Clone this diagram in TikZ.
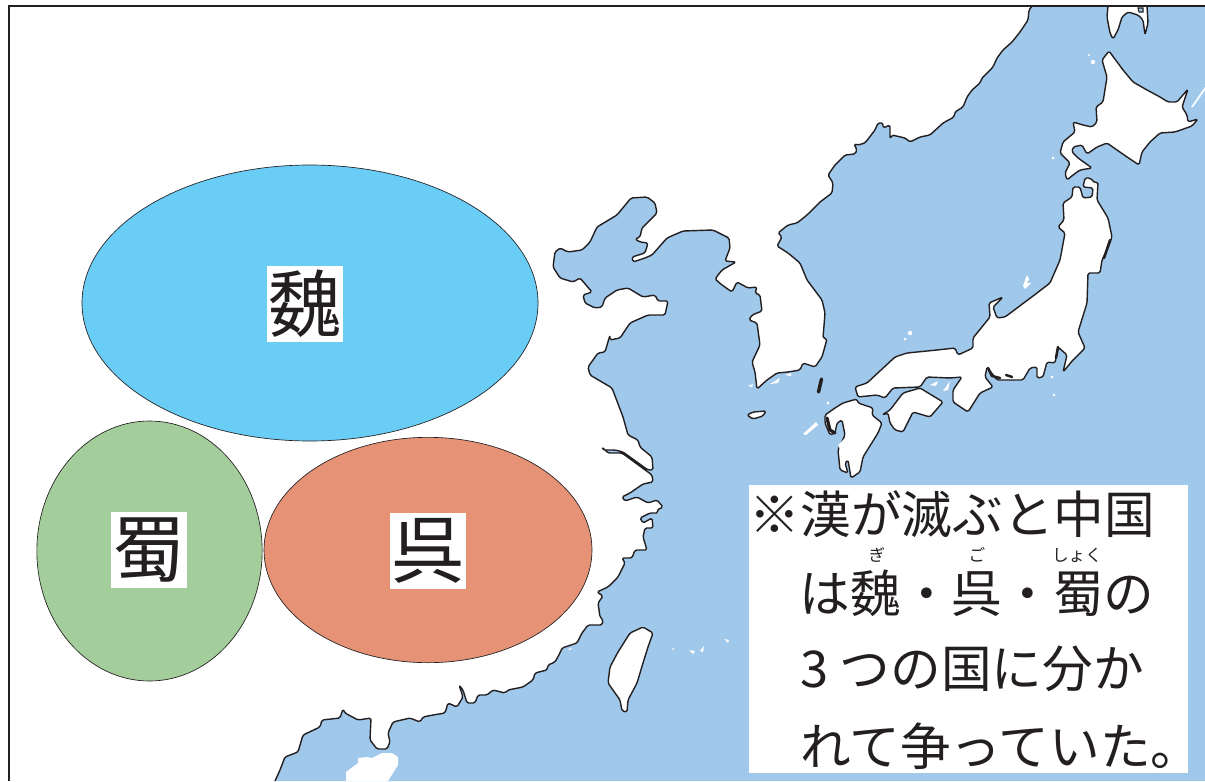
\documentclass[tikz,border=0pt]{standalone}
\usepackage{fontspec}
\setmainfont{Noto Sans CJK JP}
\usetikzlibrary{shapes.geometric}
\definecolor{seablue}{HTML}{A0C8EB}
\definecolor{inkdark}{HTML}{231F20}
\definecolor{weiblue}{HTML}{69CDF6}
\definecolor{shugreen}{HTML}{A3CE9B}
\definecolor{wured}{HTML}{E59276}
\tikzset{
  coastline/.style={draw=inkdark,line width=1.05pt,line join=round,rounded corners=1.2pt},
  landmass/.style={coastline,fill=white},
  thickland/.style={draw=inkdark,line width=1.9pt,line join=round,line cap=round},
  islet/.style={fill=white},
  kingdom/.style={ellipse,draw=inkdark,line width=.5pt,inner sep=0pt},
  namebox/.style={fill=white,text=inkdark,inner sep=0pt,minimum width=57pt,minimum height=57pt,font=\fontsize{55}{55}\selectfont},
  noteline/.style={anchor=west,inner sep=0pt,text=inkdark,font=\fontsize{38}{38}\selectfont},
  rubytext/.style={inner sep=0pt,text=inkdark,font=\fontsize{12.5}{12.5}\selectfont}
}
\def\mainlandcoast{(1032,6) -- (1029,10) -- (1028,20) -- (1020,32) -- (1012,42) -- (1003,50) -- (997,58) -- (993,67) -- (982,78) -- (980,83) -- (972,90) -- (967,97) -- (963,107) -- (955,112) -- (954,117) -- (943,123) -- (930,135) -- (920,137) -- (910,142) -- (905,138) -- (892,135) -- (890,139) -- (890,125) -- (883,128) -- (883,123) -- (878,123) -- (875,130) -- (865,143) -- (858,145) -- (854,144) -- (857,150) -- (855,154) -- (845,155) -- (835,165) -- (828,175) -- (833,183) -- (832,193) -- (820,202) -- (807,215) -- (797,223) -- (788,225) -- (778,233) -- (782,237) -- (777,246) -- (788,253) -- (800,263) -- (807,280) -- (822,300) -- (825,313) -- (823,338) -- (827,339) -- (822,357) -- (815,367) -- (803,363) -- (800,370) -- (788,372) -- (777,373) -- (767,380) -- (757,389) -- (755,372) -- (752,362) -- (760,345) -- (757,323) -- (749,320) -- (752,315) -- (762,311) -- (760,295) -- (755,293) -- (757,287) -- (748,288) -- (737,282) -- (732,292) -- (722,285) -- (715,279) -- (722,270) -- (736,262) -- (725,261) -- (730,248) -- (729,238) -- (713,230) -- (683,231) -- (667,238) -- (652,255) -- (645,258) -- (633,262) -- (632,257) -- (645,253) -- (648,243) -- (640,242) -- (635,239) -- (640,237) -- (642,228) -- (657,213) -- (655,203) -- (647,197) -- (631,198) -- (617,215) -- (597,227) -- (590,242) -- (582,250) -- (568,252) -- (560,248) -- (555,252) -- (553,267) -- (560,278) -- (573,282) -- (580,278) -- (592,292) -- (583,295) -- (585,303) -- (595,308) -- (602,307) -- (605,298) -- (617,290) -- (628,288) -- (643,297) -- (655,295) -- (658,301) -- (668,301) -- (665,315) -- (648,315) -- (630,323) -- (620,338) -- (610,340) -- (610,335) -- (605,352) -- (598,353) -- (588,367) -- (590,375) -- (612,388) -- (623,417) -- (628,435) -- (638,440) -- (640,447) -- (652,457) -- (653,470) -- (648,470) -- (623,452) -- (615,450) -- (603,450) -- (602,447) -- (608,453) -- (622,453) -- (652,475) -- (653,482) -- (643,484) -- (630,493) -- (622,497) -- (625,501) -- (637,497) -- (648,503) -- (657,500) -- (663,507) -- (657,510) -- (658,513) -- (650,513) -- (640,518) -- (643,523) -- (652,518) -- (653,528) -- (645,528) -- (643,537) -- (647,550) -- (635,550) -- (632,558) -- (622,558) -- (625,563) -- (618,577) -- (608,587) -- (597,592) -- (603,596) -- (598,603) -- (600,617) -- (603,620) -- (602,625) -- (588,625) -- (582,633) -- (577,643) -- (562,648) -- (560,653) -- (555,662) -- (548,665) -- (547,670) -- (535,673) -- (533,680) -- (523,687) -- (508,690) -- (505,693) -- (493,690) -- (487,695) -- (478,695) -- (475,703) -- (467,703) -- (463,690) -- (459,685) -- (463,697) -- (457,707) -- (448,703) -- (445,713) -- (433,715) -- (423,717) -- (420,722) -- (410,718) -- (393,722) -- (388,733) -- (390,742) -- (387,749) -- (377,749) -- (370,740) -- (371,718) -- (358,720) -- (345,713) -- (343,709) -- (340,718) -- (322,720) -- (320,727) -- (303,735) -- (298,752) -- (285,757) -- (280,770) -- (275,781)}
\begin{document}
\begin{tikzpicture}[x=.75pt,y=-.75pt]
\useasboundingbox (0,0) rectangle (1205,781);
% sea and mainland coast
\fill[seablue] \mainlandcoast -- (1205,781) -- (1205,6) -- cycle;
\draw[coastline] \mainlandcoast;
% Hainan
\fill[islet] (346,781) -- (346,772) -- (358,763) -- (358,758) -- (367,757) -- (372,758) -- (382,753) -- (392,753) -- (398,757) -- (398,765) -- (388,781) -- cycle;
% Taiwan, Jeju, Tsushima
\draw[landmass] (643,627) -- (653,633) -- (648,647) -- (643,663) -- (637,683) -- (628,700) -- (627,712) -- (622,711) -- (620,700) -- (608,683) -- (610,667) -- (618,652) -- (630,633) -- cycle;
\draw[landmass] (747,415) -- (753,412) -- (766,411) -- (763,416) -- (753,419) -- cycle;
\draw[thickland,line width=2.6pt] (821.5,379) -- (818.5,392);
% Sakhalin
\draw[landmass] (1108,6) -- (1107,17) -- (1110,33) -- (1113,39) -- (1118,30) -- (1122,17) -- (1128,12) -- (1138,15) -- (1143,20) -- (1145,35) -- (1148,23) -- (1147,6);
\fill[seablue,draw=inkdark,line width=.8pt] (1138,8) -- (1143,8) -- (1143,12) -- (1139,12) -- cycle;
% Hokkaido
\draw[landmass] (1102,60) -- (1109,51) -- (1123,70) -- (1133,82) -- (1147,90) -- (1160,97) -- (1168,102) -- (1177,102) -- (1188,89) -- (1182,107) -- (1187,115) -- (1188,122) -- (1198,119) -- (1192,126) -- (1175,132) -- (1160,133) -- (1150,142) -- (1142,152) -- (1139,165) -- (1127,157) -- (1107,143) -- (1097,147) -- (1087,154) -- (1082,145) -- (1073,147) -- (1072,152) -- (1078,158) -- (1092,168) -- (1080,170) -- (1073,175) -- (1067,180) -- (1065,173) -- (1070,163) -- (1060,153) -- (1063,142) -- (1075,132) -- (1073,122) -- (1083,125) -- (1092,127) -- (1097,122) -- (1096,107) -- (1103,102) -- (1107,77) -- cycle;
% Honshu
\draw[landmass] (1060,260) -- (1065,233) -- (1058,227) -- (1064,220) -- (1063,203) -- (1072,197) -- (1073,187) -- (1080,187) -- (1083,198) -- (1092,197) -- (1093,188) -- (1083,187) -- (1085,178) -- (1090,178) -- (1095,183) -- (1098,182) -- (1097,200) -- (1108,218) -- (1112,237) -- (1108,248) -- (1102,260) -- (1100,273) -- (1088,273) -- (1087,303) -- (1078,332) -- (1085,348) -- (1073,360) -- (1063,372) -- (1067,355) -- (1058,347) -- (1055,363) -- (1047,362) -- (1043,377) -- (1037,378) -- (1037,367) -- (1030,368) -- (1023,380) -- (997,380) -- (987,367) -- (985,377) -- (993,387) -- (980,393) -- (968,412) -- (953,402) -- (953,390) -- (962,377) -- (950,378) -- (927,377) -- (920,387) -- (893,388) -- (885,398) -- (877,395) -- (858,397) -- (855,387) -- (867,383) -- (895,357) -- (907,353) -- (937,350) -- (955,348) -- (958,355) -- (973,348) -- (973,338) -- (990,317) -- (989,303) -- (1003,297) -- (993,307) -- (997,318) -- (1005,317) -- (1037,293) -- (1050,283) -- cycle;
% heavy coast details on Honshu
\draw[thickland] (988,368) -- (992,376) -- (1000,378);
\draw[thickland] (1058,347) -- (1056,358);
\draw[thickland] (1110,240) -- (1104,258);
\draw[thickland] (1006,375) -- (1012,377);
% Shikoku
\draw[landmass] (882,415) -- (890,410) -- (903,393) -- (920,388) -- (943,402) -- (930,417) -- (913,412) -- (903,432) -- (895,430) -- (890,423) -- (888,413) -- cycle;
% Kyushu
\draw[landmass] (825,415) -- (835,408) -- (843,403) -- (857,399) -- (858,403) -- (873,408) -- (872,415) -- (882,423) -- (878,433) -- (863,457) -- (860,472) -- (851,478) -- (848,460) -- (845,463) -- (848,473) -- (840,470) -- (838,450) -- (845,435) -- (842,420) -- (837,423) -- (835,433) -- (830,435) -- (825,423) -- cycle;
\draw[thickland,line width=2.4pt] (827,418) -- (830,430) -- (835,433);
% small white islands
\fill[islet] (1191,107) -- (1205,87) -- (1205,90) -- (1193,107) -- cycle;
\fill[islet] (1027,275) -- (1029,279) -- (1027,283) -- (1031,283) -- (1025,289) -- (1023,286) -- (1025,280) -- cycle;
\fill[islet] (803,434) -- (816,422) -- (818,425) -- (806,435) -- cycle;
\fill[islet] (838,445) -- (846,437) -- (848,441) -- (840,449) -- cycle;
\fill[islet] (930,385) -- (938,381) -- (936,386) -- cycle;
\fill[islet] (943,391) -- (950,381) -- (948,390) -- cycle;
\fill[islet] (770,384) -- (780,378) -- (778,383) -- cycle;
\fill[islet] (785,375) -- (791,373) -- (791,376) -- cycle;
\fill[islet] (748,386) -- (753,384) -- (752,387) -- cycle;
\fill[islet] (689,650) -- (695,651) -- (693,654) -- cycle;
\fill[islet] (700,651) -- (704,646) -- (703,652) -- cycle;
\fill[islet] (724,639) -- (729,640) -- (728,643) -- cycle;
\fill[islet] (568,649) -- (572,648) -- (570,650) -- cycle;
\fill[islet] (910,333) circle (2.2);
\fill[islet] (905,339) circle (1.5);
\fill[islet] (828,403) circle (1.7);
\fill[islet] (1093,62) circle (2.2);
\fill[islet] (1089,55) circle (1.2);
\fill[islet] (1053,158) circle (1.5);
\fill[islet] (1052,377) circle (1.5);
\fill[islet] (1054,395) circle (1.3);
\fill[islet] (673,649) circle (1);
% frame
\draw[draw=inkdark,line width=1.6pt] (9,781) -- (9,6) -- (1205,6);
% three kingdoms
\node[kingdom,fill=weiblue,minimum width=342pt,minimum height=207pt] (wei) at (310,303) {};
\node[kingdom,fill=shugreen,minimum width=169pt,minimum height=195pt] (shu) at (149.5,551) {};
\node[kingdom,fill=wured,minimum width=246pt,minimum height=169pt] (wu) at (428,550) {};
\node[namebox] (weiname) at (305,304) {魏};
\node[namebox] (shuname) at (149,550) {蜀};
\node[namebox] (wuname) at (428,551) {呉};
% note
\fill[white] (749,485) rectangle (1188,773);
\node[noteline] (noteone) at (749.5,514) {※漢が滅ぶと中国};
\node[noteline] (notetwo) at (799.5,593) {は魏・呉・蜀の};
\node[noteline] (notethree) at (800,669) {3 つの国に分か};
\node[noteline] (notefour) at (800,746) {れて争っていた。};
\node[rubytext] (rubygi) at (877,555) {ぎ};
\node[rubytext] (rubygo) at (977,555) {ご};
\node[rubytext] (rubyshoku) at (1077,555) {しょく};
\end{tikzpicture}
\end{document}
